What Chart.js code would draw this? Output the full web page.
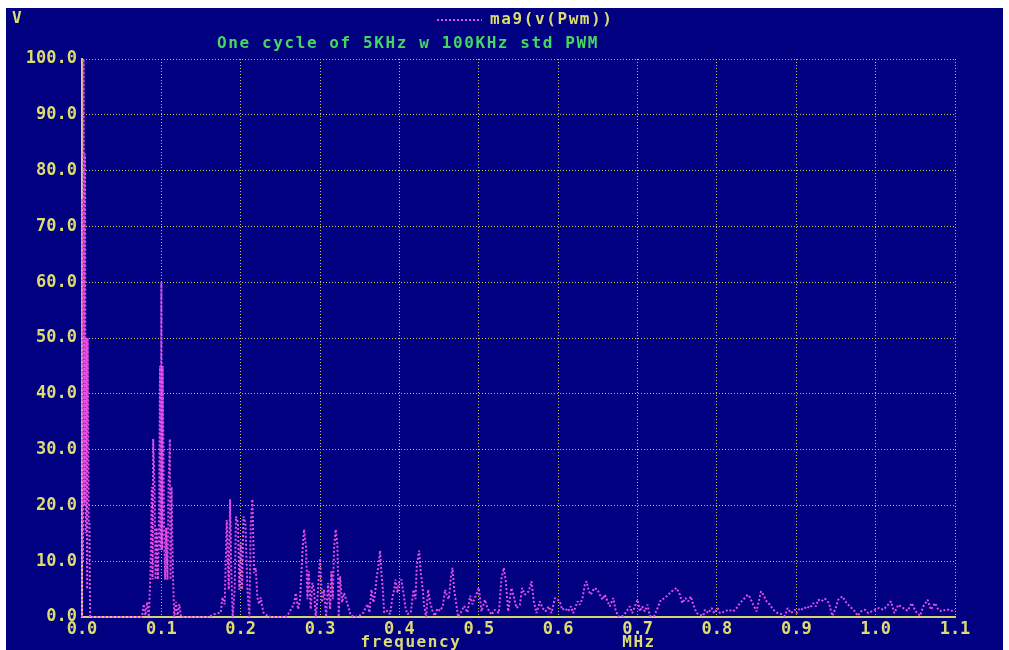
<!DOCTYPE html>
<html>
<head>
<meta charset="utf-8">
<script src="https://cdn.jsdelivr.net/npm/chart.js@4"></script>
<style>
  html, body { margin: 0; padding: 0; background: #fff; }
  canvas { display: block; }
</style>
</head>
<body>
<canvas id="chart" width="1009" height="650"></canvas>
<script>
// frequency (MHz) and magnitude (V)
const freq = [
  0, 0.0004, 0.0012, 0.002, 0.003, 0.0038, 0.0046, 0.0055, 0.0065, 0.0072, 0.0085, 0.0094, 0.0102,
  0.0756, 0.0778, 0.0799, 0.0821, 0.0842, 0.0863, 0.088, 0.0889, 0.0897, 0.0915, 0.0927, 0.094, 0.0957,
  0.097, 0.0983, 0.0992, 0.1, 0.1008, 0.1017, 0.1034, 0.1047, 0.106, 0.1077, 0.109, 0.1107, 0.1115,
  0.1128, 0.1145, 0.1162, 0.1184, 0.1205, 0.1226, 0.1248,
  0.16, 0.1664, 0.1748, 0.1769, 0.1798, 0.1824, 0.1849, 0.1866, 0.1882, 0.1899, 0.1924, 0.1941, 0.1966,
  0.1983, 0.2, 0.2017, 0.2034, 0.2059, 0.2084, 0.2109, 0.2126, 0.2147, 0.2168, 0.2189, 0.221, 0.2231,
  0.2252, 0.2286, 0.2336, 0.2378,
  0.2567, 0.2597, 0.2672, 0.2693, 0.2723, 0.2748, 0.2777, 0.2798, 0.2824, 0.284, 0.2857, 0.2882, 0.2903,
  0.2924, 0.2945, 0.2966, 0.3, 0.3025, 0.305, 0.3076, 0.3101, 0.3126, 0.3143, 0.316, 0.3176, 0.3197,
  0.3218, 0.3235, 0.3252, 0.3277, 0.3303, 0.3345, 0.3387, 0.3437,
  0.3492, 0.3546, 0.3597, 0.3622, 0.3647, 0.3672, 0.3689, 0.3714, 0.3735, 0.3756, 0.3773, 0.379, 0.3807,
  0.3849, 0.3882, 0.3912, 0.3933, 0.395, 0.3975, 0.4, 0.4025, 0.405, 0.4076, 0.4101, 0.4143, 0.4176,
  0.4202, 0.4218, 0.4248, 0.4269, 0.4294, 0.4311, 0.4336, 0.4361, 0.4387, 0.4416, 0.4445, 0.4479, 0.4513,
  0.4546, 0.4576, 0.4597, 0.4622, 0.4647, 0.4668, 0.4689, 0.4714, 0.4739, 0.4773, 0.4815, 0.4857, 0.4891,
  0.492, 0.495,
  0.5, 0.5034, 0.5076, 0.5109, 0.516, 0.52, 0.5252, 0.5286, 0.5315, 0.534, 0.537, 0.541, 0.5445, 0.5475,
  0.5517, 0.5546, 0.558, 0.563, 0.5664, 0.5693, 0.5727, 0.5769, 0.5803, 0.584, 0.5882, 0.5916, 0.5958,
  0.5992, 0.602, 0.605, 0.6084, 0.6126, 0.616, 0.619, 0.6244, 0.6273, 0.6307, 0.6336, 0.6357, 0.6387,
  0.6412, 0.6454, 0.6496, 0.6525, 0.6559, 0.6588, 0.6622, 0.6651, 0.6693, 0.6723, 0.6756, 0.6819, 0.6861,
  0.6903, 0.6933, 0.6966, 0.70, 0.703, 0.7059, 0.7092, 0.7126, 0.7155, 0.721, 0.7252, 0.7294, 0.7345,
  0.7387, 0.7429, 0.7492, 0.7534, 0.7563, 0.7605, 0.7639, 0.7672, 0.7702, 0.7744, 0.7786, 0.7828, 0.7849,
  0.7891, 0.7933, 0.7966, 0.8008, 0.8038, 0.8101, 0.8143, 0.8206, 0.8248, 0.829, 0.8332, 0.8387, 0.8416,
  0.8458, 0.85, 0.8555, 0.8584, 0.8626, 0.8668, 0.871, 0.8765, 0.8815, 0.8857, 0.8891, 0.8933, 0.8983,
  0.9004, 0.9046, 0.9088, 0.913, 0.9172, 0.9214, 0.9248, 0.9277, 0.9319, 0.9361, 0.9412, 0.9454, 0.9496,
  0.9529, 0.958, 0.9634, 0.9676, 0.9739, 0.9773, 0.9815, 0.9866, 0.9908, 0.995, 0.9992, 1.0042, 1.0097,
  1.0139, 1.0193, 1.0235, 1.0286, 1.0349, 1.0403, 1.0454, 1.0504, 1.0559, 1.0601, 1.0655, 1.0697, 1.0748,
  1.079, 1.0832, 1.0895, 1.0958, 1.1
];
const mag = [
  0, 75, 10, 100, 20, 83, 15, 50, 5, 50, 17, 17, 0,
  0, 2.3, 0.3, 2.7, 0, 8, 23.3, 6.7, 31.9, 23.3, 6.7, 16, 6.7,
  16, 45, 12, 60, 12, 45, 16, 6.7, 16, 6.7, 23.3, 31.9, 6.7,
  23.3, 8, 0, 2.7, 0.3, 2.3, 0,
  0, 0.5, 0.8, 3.5, 2.3, 17.4, 4.9, 21.1, 7.9, 0, 4.9, 18, 16.8,
  4.9, 13.3, 4.9, 18, 16.8, 4.9, 0, 16.3, 21.1, 7.9, 8.8, 3.5, 2.3,
  3.5, 0.8, 0.2, 0,
  0, 0.5, 2.3, 4.3, 1.4, 3.2, 11.5, 15.7, 12.4, 3.2, 8.2, 1.4, 6.1,
  4.9, 0, 3.2, 10.5, 2.6, 4.9, 0, 6.1, 1.4, 8.2, 3.2, 12.4, 15.7,
  13, 0, 7.3, 2.6, 4.3, 2.3, 0.3, 0,
  0.2, 0.8, 2.3, 0.8, 4.9, 2.6, 3.8, 7.3, 9.1, 11.9, 7.9, 4.9, 0.8,
  1.1, 0.5, 3.5, 4.9, 6.7, 4.3, 6.5, 6.7, 4.3, 1.7, 0.5, 0.8, 4.9,
  3.2, 9.1, 11.9, 7.9, 4.9, 2.0, 0, 4.9, 2.6, 1.1, 0.2, 1.5, 1.1,
  2.0, 4.9, 3.8, 3.2, 7.0, 8.8, 4.9, 2.6, 0, 0.8, 2.0, 0.8, 3.8,
  2.3, 3.4,
  5.2, 1.0, 3.1, 1.6, 0.4, 1.3, 0.7, 7.0, 8.8, 6.4, 1.0, 5.2, 3.4, 1.6,
  2.2, 5.2, 4.0, 4.6, 6.4, 2.8, 0.7, 2.8, 1.6, 1.0, 1.9, 0.7, 3.4,
  3.1, 2.8, 1.3, 1.6, 1.0, 1.9, 0.7, 2.8, 2.2, 3.4, 5.8, 6.4, 4.6,
  4.0, 5.2, 4.9, 4.0, 3.1, 4.0, 2.8, 1.9, 3.4, 1.3, 0.1, 0.2, 1.0,
  1.9, 0.7, 1.9, 3.1, 1.0, 1.9, 1.0, 2.2, 0.2, 0.2, 1.6, 3.1, 3.4,
  4.0, 4.6, 5.2, 4.0, 2.5, 3.4, 2.8, 3.7, 2.2, 0.7, 0.4, 0.2, 1.3,
  0.7, 1.6, 0.7, 1.6, 0.7, 1.0, 1.3, 1.0, 1.6, 2.5, 3.1, 4.0, 3.5,
  2.2, 1.0, 4.6, 4.0, 2.8, 2.2, 1.3, 0.7, 0.5, 0.2, 1.6, 0.7, 1.3,
  0.7, 1.6, 1.3, 1.9, 1.6, 2.5, 1.9, 3.1, 2.8, 3.3, 2.5, 0.2, 1.6,
  3.1, 3.7, 2.5, 1.9, 1.0, 0.2, 1.0, 1.3, 0.7, 1.0, 1.3, 1.6, 1.3,
  1.9, 2.8, 0.7, 2.2, 1.6, 1.1, 2.5, 1.0, 0.2, 1.9, 3.1, 1.3, 2.5,
  1.3, 1.0, 1.4, 1.1, 1.3
];
const xTicks = { min: 0, max: 1.1, step: 0.1 };
const yTicks = { min: 0, max: 100, step: 10 };

const NAVY = "#000080";
const KHAKI = "#dcdc70";
const GRID = "#c4c464";
const TRACE = "#e44ee4";
const FONT = '"DejaVu Sans Mono", monospace';

const backdrop = {
    id: "backdrop",
    beforeDraw(chart) {
        const c = chart.ctx;
        c.save();
        c.fillStyle = "#fff";
        c.fillRect(0, 0, chart.width, chart.height);
        c.fillStyle = NAVY;
        c.fillRect(6, 8, 997, 642);
        c.restore();
    },
    afterDraw(chart) {
        const c = chart.ctx;
        c.save();
        c.font = "bold 16px " + FONT;
        c.letterSpacing = "1.6px";
        c.textBaseline = "middle";

        c.fillStyle = KHAKI;
        c.textAlign = "left";
        c.fillText("V", 12, 19);

        // legend
        c.strokeStyle = TRACE;
        c.lineWidth = 2;
        c.setLineDash([2, 2]);
        c.beginPath();
        c.moveTo(437, 20);
        c.lineTo(482, 20);
        c.stroke();
        c.setLineDash([]);
        c.fillStyle = KHAKI;
        c.fillText("ma9(v(Pwm))", 490, 20);

        c.fillStyle = "#44d860";
        c.textAlign = "center";
        c.fillText("One cycle of 5KHz w 100KHz std PWM", 408, 44);

        c.fillStyle = KHAKI;
        c.fillText("frequency", 411, 643);
        c.fillText("MHz", 639, 643);
        c.restore();
    }
};

new Chart(document.getElementById("chart"), {
    type: "line",
    data: {
        datasets: [
            {
                label: "ma9(v(Pwm))",
                data: freq.map((f, i) => ({ x: f, y: mag[i] })),
                borderColor: TRACE,
                borderWidth: 2,
                borderDash: [2, 2],
                borderJoinStyle: "bevel",
                pointRadius: 0,
                tension: 0,
                clip: false,
            },
        ],
    },
    options: {
        responsive: false,
        animation: false,
        devicePixelRatio: 1,
        layout: { padding: { top: 59, right: 54, left: 0, bottom: 0 } },
        plugins: { legend: { display: false }, tooltip: { enabled: false } },
        scales: {
            x: {
                type: "linear",
                min: xTicks.min,
                max: xTicks.max,
                afterFit(s) { s.height = 33; },
                ticks: {
                    stepSize: xTicks.step,
                    color: KHAKI,
                    font: { family: FONT, size: 17, weight: "bold" },
                    padding: 2,
                    maxRotation: 0,
                    callback: (v) => v.toFixed(1),
                },
                grid: { color: GRID, lineWidth: 1, drawTicks: false },
                border: { display: true, color: "#d4d474", width: 2, dash: [1, 2] },
            },
            y: {
                min: yTicks.min,
                max: yTicks.max,
                afterFit(s) { s.width = 82; },
                ticks: {
                    stepSize: yTicks.step,
                    color: KHAKI,
                    font: { family: FONT, size: 17, weight: "bold" },
                    padding: 5,
                    callback: (v) => v.toFixed(1),
                },
                grid: { color: GRID, lineWidth: 1, drawTicks: false },
                border: { display: true, color: "#d4d474", width: 2, dash: [1, 2] },
            },
        },
    },
    plugins: [backdrop],
});
</script>
</body>
</html>
